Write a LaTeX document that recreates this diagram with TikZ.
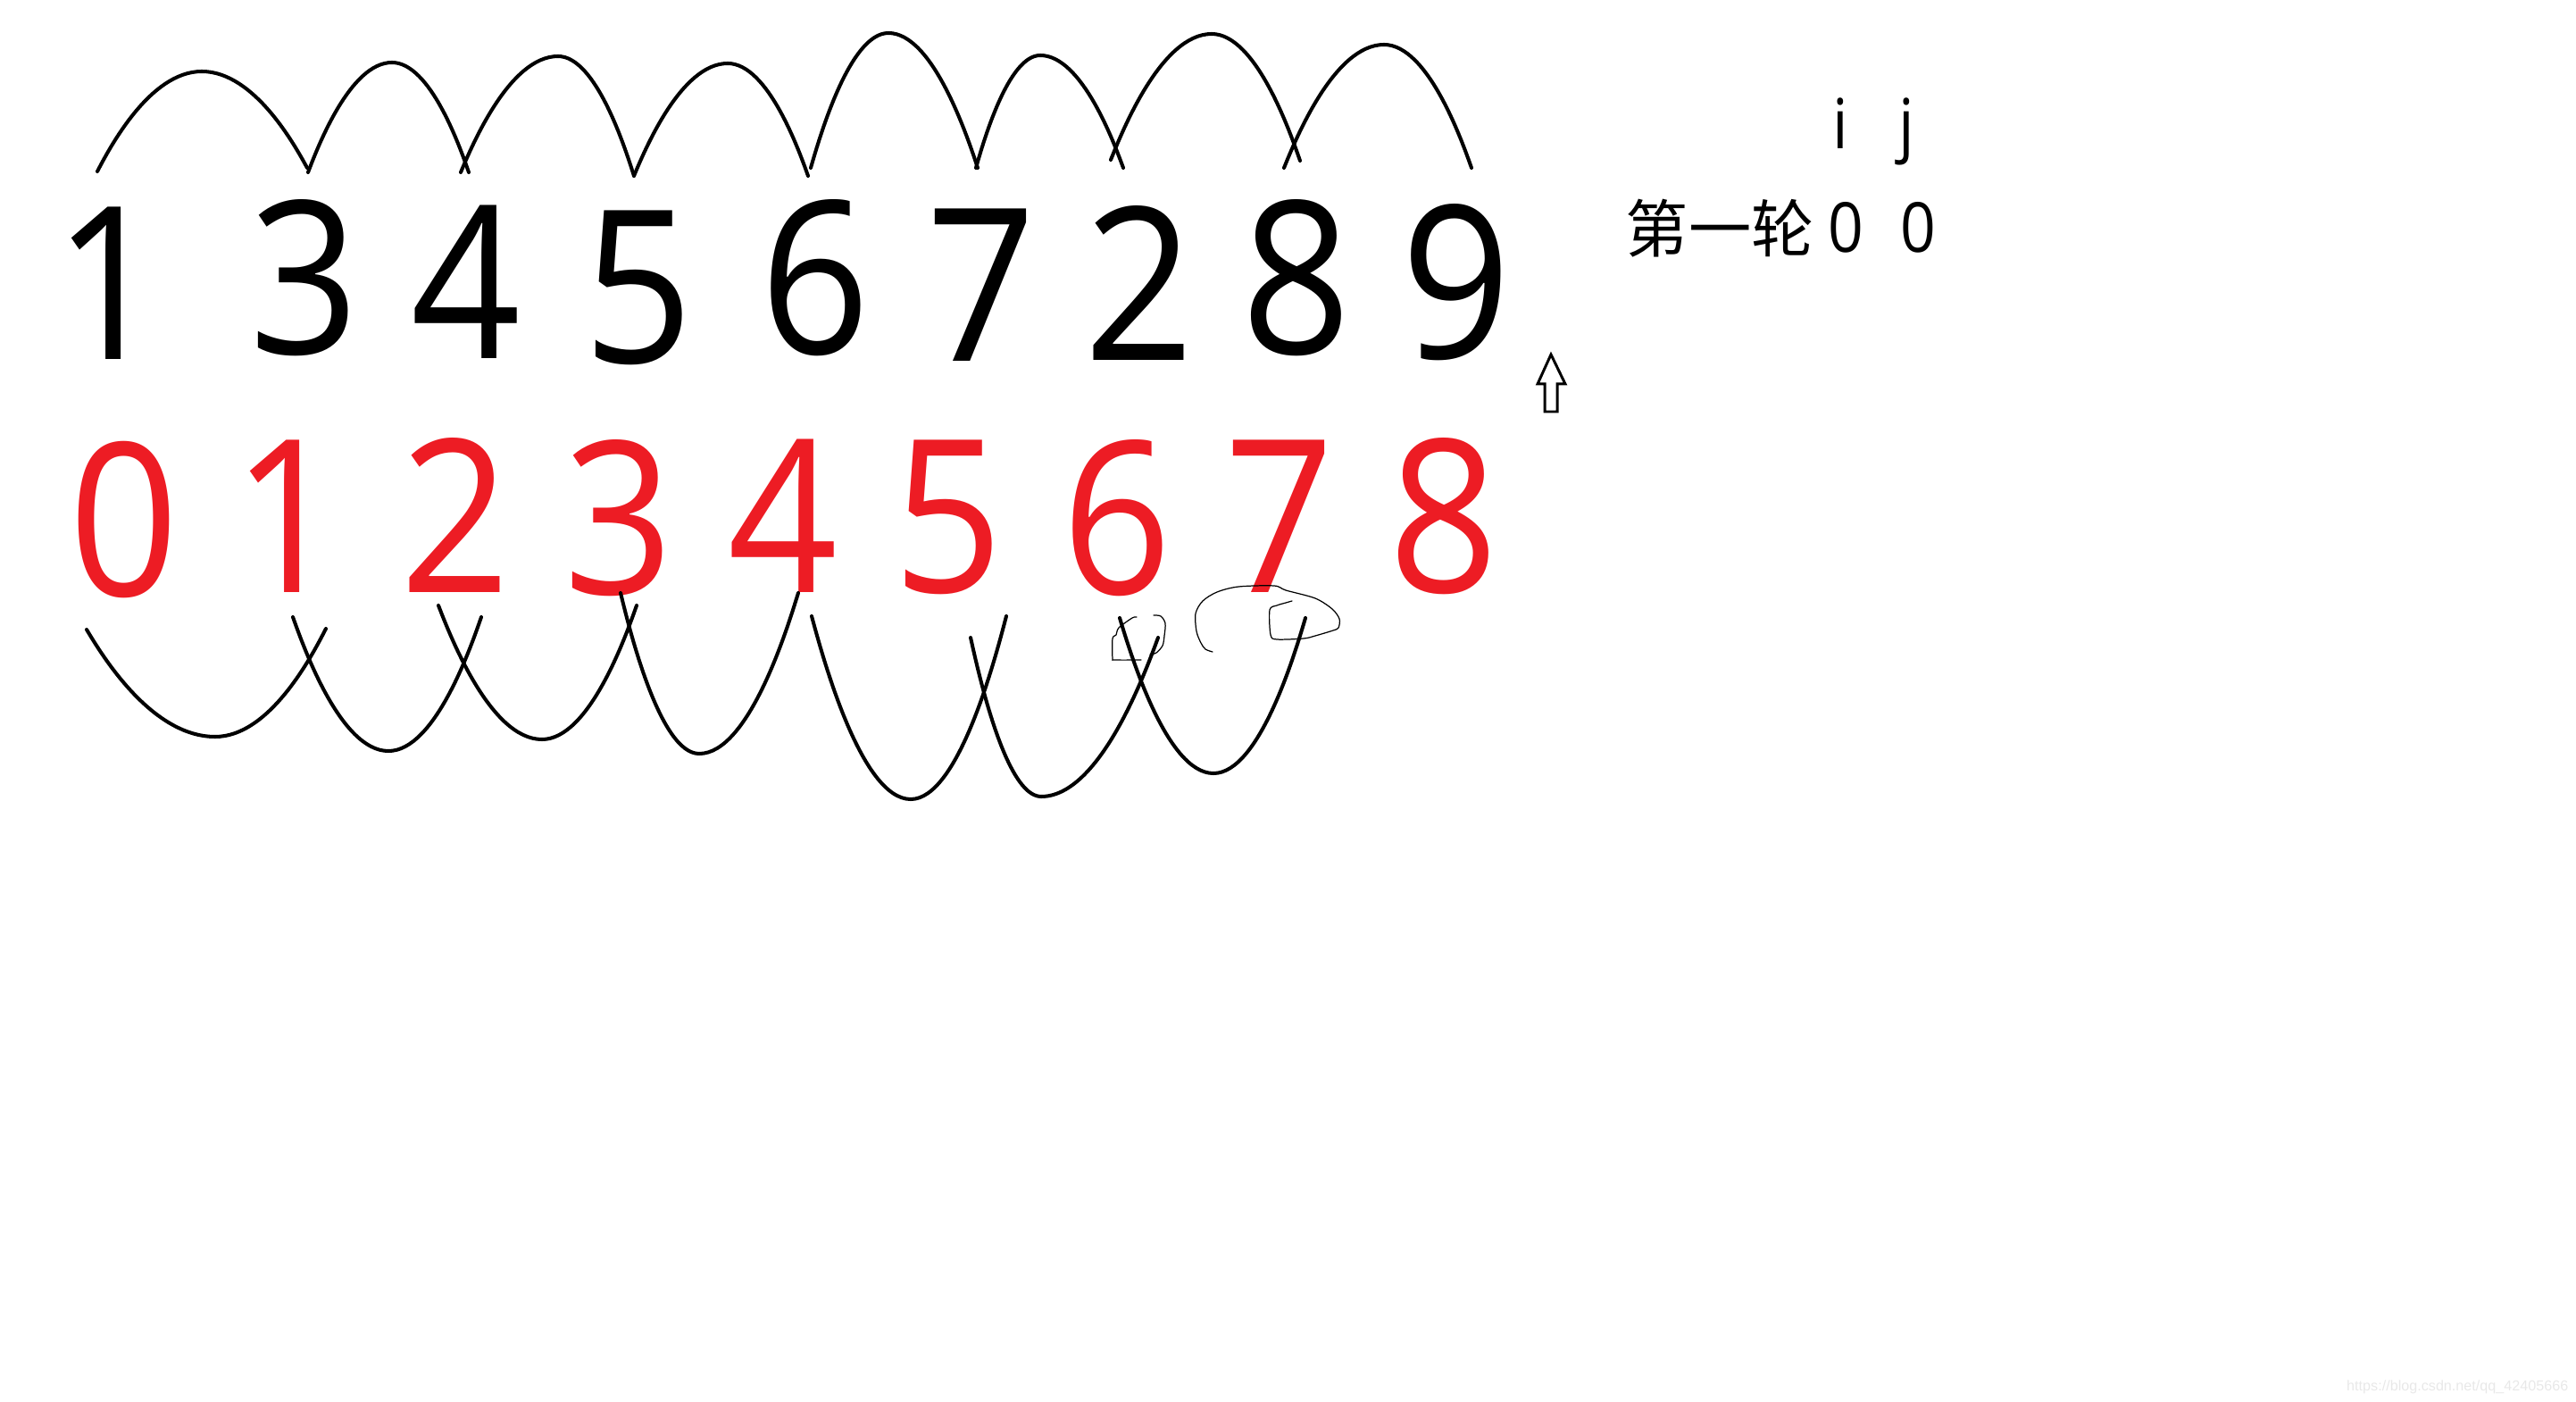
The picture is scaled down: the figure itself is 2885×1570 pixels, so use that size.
\documentclass[tikz,border=0pt]{standalone}
\usepackage{fontspec}
\newfontfamily\cjk{Noto Sans CJK SC}
\newfontfamily\numfont[FakeStretch=0.9]{Open Sans}
\newfontfamily\wmfont{Liberation Sans}
\definecolor{idxred}{RGB}{237,28,36}

\begin{document}
\begin{tikzpicture}[x=0.1mm, y=-0.1mm,
    valnum/.style = {font=\numfont\fontsize{68}{68}\selectfont, inner sep=0pt, anchor=base},
    idxnum/.style = {valnum, text=idxred},
    note/.style = {font=\numfont\fontsize{22}{22}\selectfont, inner sep=0pt, anchor=base},
    hop/.style = {line width=1.15pt, line cap=round, line join=round},
    scribble/.style = {line width=0.35pt, line cap=round}]

    \useasboundingbox (0,0) rectangle (2885,1570);

    % values
    \node[valnum] (v1) at (122,403) {1};
    \node[valnum] (v3) at (341,397) {3};
    \node[valnum] (v4) at (522,402) {4};
    \node[valnum] (v5) at (715,407) {5};
    \node[valnum] (v6) at (913,397) {6};
    \node[valnum] (v7) at (1099,405) {7};
    \node[valnum] (v2) at (1276,404) {2};
    \node[valnum] (v8) at (1452,397) {8};
    \node[valnum] (v9) at (1631,402) {9};

    % indices
    \node[idxnum] (k0) at (139,668) {0};
    \node[idxnum] (k1) at (322,664) {1};
    \node[idxnum] (k2) at (510,664) {2};
    \node[idxnum] (k3) at (693,666) {3};
    \node[idxnum] (k4) at (877,664) {4};
    \node[idxnum] (k5) at (1062,664) {5};
    \node[idxnum] (k6) at (1251,666) {6};
    \node[idxnum] (k7) at (1433,664) {7};
    \node[idxnum] (k8) at (1617,664) {8};

    % hops over the values
    \draw[hop] (109,192) parabola bend (226,80) (344,188);
    \draw[hop] (345,193) parabola bend (439,70) (525,193);
    \draw[hop] (516,193) parabola bend (625,63) (710,197);
    \draw[hop] (710,197) parabola bend (815,71) (905,197);
    \draw[hop] (908,188) parabola bend (995,37) (1095,188);
    \draw[hop] (1093,188) parabola bend (1165,62) (1258,188);
    \draw[hop] (1244,179) parabola bend (1357,38) (1456,180);
    \draw[hop] (1438,188) parabola bend (1550,50) (1648,188);

    % hops under the indices
    \draw[hop] (97,705) parabola bend (241,825) (365,704);
    \draw[hop] (328,691) parabola bend (435,841) (539,691);
    \draw[hop] (491,678) parabola bend (607,828) (713,678);
    \draw[hop] (695,664) parabola bend (783,844) (894,664);
    \draw[hop] (909,690) parabola bend (1020,895) (1127,690);
    \draw[hop] (1087,714) parabola bend (1166,892) (1297,714);
    \draw[hop] (1254,692) parabola bend (1359,866) (1462,692);

    % pen marks round 6 and 7
    \draw[scribble] plot[smooth] coordinates {(1273,691) (1268,692) (1253,703) (1250,711) (1246,715) (1246,737) (1249,739) (1278,739)};
    \draw[scribble] plot[smooth] coordinates {(1292,689) (1300,690) (1305,698) (1304,712) (1302,723) (1295,731) (1288,733)};
    \draw[scribble] plot[smooth] coordinates {(1358,730) (1350,727) (1345,720) (1340,707) (1339,687) (1347,673) (1363,663) (1387,657) (1427,656) (1440,661) (1473,670) (1492,682) (1500,693) (1499,703) (1493,706) (1473,712) (1460,715) (1430,716) (1423,711) (1422,683) (1430,678) (1440,675) (1447,673)};

    % arrow under the 9
    \draw[line width=0.85pt, line join=miter, fill=white] (1737,397) -- (1753,430) -- (1744,430) -- (1744,461) -- (1730,461) -- (1730,430) -- (1722,430) -- cycle;

    % round counter
    \node[note] (ilab) at (2061,167) {i};
    \node[note] (jlab) at (2135,167) {j};
    \node[note, font=\cjk\fontsize{20}{20}\selectfont, anchor=base west] (round) at (1820,283) {第一轮};
    \node[note] (ival) at (2067,283) {0};
    \node[note] (jval) at (2148,283) {0};

    \node[font=\wmfont\fontsize{4.6}{5}\selectfont, text=black!9, anchor=east, inner sep=0pt] (wm) at (2877,1553) {https://blog.csdn.net/qq\_42405666};

\end{tikzpicture}
\end{document}
